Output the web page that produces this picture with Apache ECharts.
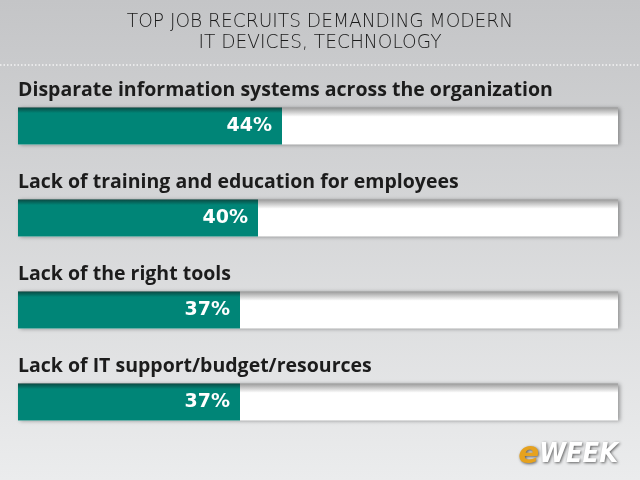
<!DOCTYPE html>
<html>
<head>
<meta charset="utf-8">
<script src="https://cdn.jsdelivr.net/npm/echarts@6/dist/echarts.min.js"></script>
<style>
  html, body { margin: 0; padding: 0; }
  #chart { width: 640px; height: 480px; }
</style>
</head>
<body>
<div id="chart"></div>
<script>
const categories = [
  'Disparate information systems across the organization',
  'Lack of training and education for employees',
  'Lack of the right tools',
  'Lack of IT support/budget/resources'
]
const values = [44, 40, 37, 37]
const titleLines = ['TOP JOB RECRUITS DEMANDING MODERN', 'IT DEVICES, TECHNOLOGY']

const chart = echarts.init(document.getElementById('chart'))
const option = {
  backgroundColor: new echarts.graphic.LinearGradient(0, 0, 0, 1, [
    { offset: 0, color: '#c4c5c7' },
    { offset: 1, color: '#ebeced' }
  ]),
  title: {
    text: titleLines.join('\n'),
    left: 'center',
    top: 12,
    padding: 0,
    textStyle: {
      fontFamily: 'DejaVu Sans',
      fontWeight: 200,
      fontSize: 18.6,
      lineHeight: 21,
      color: '#1a1a1a'
    }
  },
  graphic: [
    {
      type: 'line',
      shape: { x1: 0, y1: 65, x2: 640, y2: 65 },
      style: { stroke: '#f4f4f4', lineWidth: 1.5, lineDash: [1.5, 2] }
    },
    {
      type: 'text',
      right: 22,
      top: 439,
      style: {
        text: '{e|e}{w|WEEK}',
        rich: {
          e: { fontFamily: 'DejaVu Sans', fontStyle: 'italic', fontWeight: 'bold', fontSize: 31, fill: '#e6a21e', textShadowColor: 'rgba(0,0,0,0.6)', textShadowBlur: 3, textShadowOffsetX: 1, textShadowOffsetY: 1 },
          w: { fontFamily: 'DejaVu Sans Condensed', fontStyle: 'italic', fontWeight: 'bold', fontSize: 27, fill: '#ffffff', textShadowColor: 'rgba(0,0,0,0.6)', textShadowBlur: 3, textShadowOffsetX: 1, textShadowOffsetY: 1 }
        }
      }
    }
  ],
  grid: { left: 18, right: 22, top: 80, bottom: 32 },
  xAxis: {
    type: 'value',
    min: 0,
    max: 100,
    show: false
  },
  yAxis: {
    type: 'category',
    data: categories,
    inverse: true,
    axisLine: { show: false },
    axisTick: { show: false },
    axisLabel: {
      inside: true,
      margin: 0,
      align: 'left',
      verticalAlign: 'bottom',
      padding: [0, 0, 26, 0],
      fontFamily: 'Open Sans',
      fontWeight: 'bold',
      fontSize: 19.5,
      color: '#1c1c1c'
    }
  },
  series: [{
    type: 'bar',
    data: values,
    barWidth: 37,
    showBackground: true,
    backgroundStyle: {
      color: new echarts.graphic.LinearGradient(0, 0, 0, 1, [
        { offset: 0, color: '#9a9a9a' },
        { offset: 0.25, color: '#ffffff' },
        { offset: 1, color: '#ffffff' }
      ]),
      shadowColor: 'rgba(0,0,0,0.35)',
      shadowBlur: 4,
      shadowOffsetX: 2
    },
    itemStyle: {
      color: new echarts.graphic.LinearGradient(0, 0, 0, 1, [
        { offset: 0, color: '#0b4a43' },
        { offset: 0.15, color: '#008577' },
        { offset: 1, color: '#008577' }
      ])
    },
    label: {
      show: true,
      position: 'insideRight',
      distance: 10,
      formatter: '{c}%',
      fontFamily: 'DejaVu Sans',
      fontWeight: 'bold',
      fontSize: 19,
      color: '#ffffff'
    }
  }]
}
chart.setOption(option)
</script>
</body>
</html>
